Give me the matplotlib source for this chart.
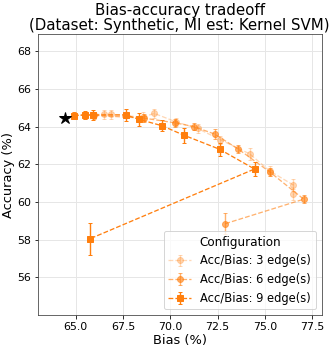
import numpy as np
import matplotlib
matplotlib.use("Agg")
import matplotlib.pyplot as plt

# Baseline (no edges removed)
base_bias = 64.42
base_acc = 64.45

# Acc/Bias per configuration
bias_3 = [64.9, 66.5, 66.85, 68.55, 69.15, 70.3, 71.45, 72.65, 74.2, 75.25, 76.5, 76.5]
acc_3 = [64.6, 64.65, 64.65, 64.5, 64.7, 64.25, 63.9, 63.3, 62.55, 61.65, 60.9, 60.4]
err_3 = [0.15, 0.25, 0.25, 0.25, 0.25, 0.2, 0.25, 0.2, 0.3, 0.25, 0.3, 0.3]

bias_6 = [64.9, 65.5, 65.95, 68.6, 70.25, 71.25, 72.35, 73.6, 75.25, 77.05, 72.9]
acc_6 = [64.6, 64.6, 64.6, 64.45, 64.2, 64.0, 63.6, 62.8, 61.6, 60.15, 58.85]
err_6 = [0.15, 0.2, 0.2, 0.2, 0.2, 0.2, 0.25, 0.2, 0.2, 0.2, 0.55]

bias_9 = [64.9, 65.5, 65.9, 67.65, 68.35, 69.55, 70.7, 72.6, 74.45, 65.75]
acc_9 = [64.58, 64.62, 64.62, 64.62, 64.38, 64.05, 63.55, 62.8, 61.75, 58.05]
err_9 = [0.15, 0.2, 0.25, 0.3, 0.35, 0.3, 0.4, 0.35, 0.35, 0.85]

configs = [
    ("Acc/Bias: 3 edge(s)", bias_3, acc_3, err_3, 0.3, "o"),
    ("Acc/Bias: 6 edge(s)", bias_6, acc_6, err_6, 0.6, "o"),
    ("Acc/Bias: 9 edge(s)", bias_9, acc_9, err_9, 1.0, "s"),
]

fig, ax = plt.subplots(figsize=(332 / 72, 349 / 72), dpi=72)
fig.subplots_adjust(left=0.114, right=0.969, top=0.902, bottom=0.097)

for label, b, a, e, alpha, mk in configs:
    ax.errorbar(b, a, yerr=e, color="tab:orange", alpha=alpha,
                linestyle="--", marker=mk, markersize=6, capsize=2,
                elinewidth=1.4, linewidth=1.3, label=label)

ax.plot(base_bias, base_acc, marker="*", color="black", markersize=13,
        linestyle="none", zorder=10)

ax.set_xlim(63, 78)
ax.set_ylim(54, 68.9)
ax.set_xticks(np.arange(65, 78, 2.5))
ax.set_yticks(np.arange(56, 69, 2))
ax.tick_params(labelsize=11)
ax.grid(True, color="#e6e6e6", linewidth=1)
ax.set_axisbelow(True)
for s in ax.spines.values():
    s.set_color("#444444")

ax.set_xlabel("Bias (%)", fontsize=13, labelpad=2)
ax.set_ylabel("Accuracy (%)", fontsize=13, labelpad=2)
ax.set_title("Bias-accuracy tradeoff\n(Dataset: Synthetic, MI est: Kernel SVM)",
             fontsize=15, pad=4, linespacing=1.0)
ax.legend(title="Configuration", loc="lower right", fontsize=11.5,
          title_fontsize=12)

fig.savefig("out.png", dpi=72)
